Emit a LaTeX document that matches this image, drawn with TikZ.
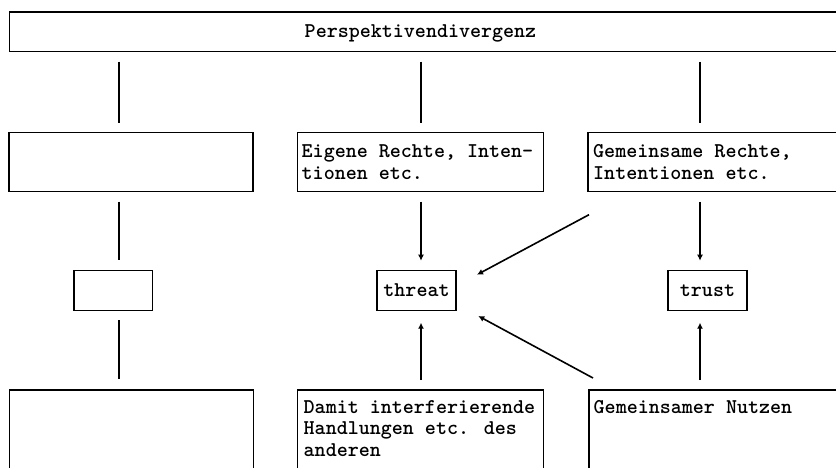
\documentclass[tikz,border=0pt]{standalone}
\usetikzlibrary{arrows.meta,calc}
\begin{document}
\begin{tikzpicture}[x=1pt,y=-1pt,
  box/.style={draw,line width=1.5pt,inner sep=0,outer sep=0,anchor=north west},
  txt/.style={inner sep=0,anchor=base west,font=\ttfamily\bfseries\fontsize{21}{21.8}\selectfont},
  conn/.style={line width=1.6pt},
  arr/.style={line width=1.6pt,-{Latex[length=6pt,width=6pt]}}]
\useasboundingbox (0,0) rectangle (836,467);
\clip (0,0) rectangle (836,467);
% boxes
\node[box,minimum width=845pt,minimum height=39.7pt] (top) at (9.5,12) {};
\node[box,minimum width=244pt,minimum height=59pt] (L2) at (9,132.7) {};
\node[box,minimum width=246pt,minimum height=59pt] (M2) at (297.3,132.7) {};
\node[box,minimum width=260pt,minimum height=59pt] (R2) at (588,132.7) {};
\node[box,minimum width=78.7pt,minimum height=40pt] (Ls) at (74,270.7) {};
\node[box,minimum width=79pt,minimum height=40pt] (threat) at (377,270.7) {};
\node[box,minimum width=79pt,minimum height=40pt] (trust) at (668,270.7) {};
\node[box,minimum width=244pt,minimum height=100pt] (L3) at (9.5,390) {};
\node[box,minimum width=246pt,minimum height=100pt] (M3) at (297.5,390) {};
\node[box,minimum width=260pt,minimum height=100pt] (R3) at (589,390) {};
% texts
\node[txt,anchor=base] (tTop) at (420.5,37.5) {Perspektivendivergenz};
\node[txt] (tM2) at (301.5,157.5) {\begin{tabular}[t]{@{}l@{}}Eigene Rechte, Inten-\\tionen etc.\end{tabular}};
\node[txt] (tR2) at (593,157.5) {\begin{tabular}[t]{@{}l@{}}Gemeinsame Rechte,\\Intentionen etc.\end{tabular}};
\node[txt,anchor=base] (tThreat) at ($(threat.center)+(0,6)$) {threat};
\node[txt,anchor=base] (tTrust) at ($(trust.center)+(0,6)$) {trust};
\node[txt] (tM3) at (303.5,413) {\begin{tabular}[t]{@{}l@{}}Damit interferierende\\Handlungen etc. des\\anderen\end{tabular}};
\node[txt] (tR3) at (593.5,413) {Gemeinsamer Nutzen};
% column positions
\coordinate (xL) at (119,0);
\coordinate (xM) at (421,0);
\coordinate (xR) at (700,0);
% connectors
\draw[conn,shorten <=10pt,shorten >=10pt] (top.south -| xL) -- (L2.north -| xL);
\draw[conn,shorten <=10pt,shorten >=10pt] (top.south -| xM) -- (M2.north -| xM);
\draw[conn,shorten <=10pt,shorten >=10pt] (top.south -| xR) -- (R2.north -| xR);
\draw[conn,shorten <=10pt,shorten >=10.5pt] (L2.south -| xL) -- (Ls.north -| xL);
\draw[conn,shorten <=9.5pt,shorten >=11pt] (Ls.south -| xL) -- (L3.north -| xL);
\draw[arr,shorten <=10pt,shorten >=10pt] (M2.south -| xM) -- (threat.north -| xM);
\draw[arr,shorten <=10pt,shorten >=12pt] (M3.north -| xM) -- (threat.south -| xM);
\draw[arr,shorten <=10pt,shorten >=10pt] (R2.south -| xR) -- (trust.north -| xR);
\draw[arr,shorten <=10pt,shorten >=12pt] (R3.north -| xR) -- (trust.south -| xR);
\coordinate (d1s) at ($(R2.south west)+(1,23)$);
\coordinate (d1e) at ($(threat.east)+(21,-16)$);
\coordinate (d2s) at ($(R3.north west)+(4,-12)$);
\coordinate (d2e) at ($(threat.east)+(22.3,25.3)$);
\draw[arr] (d1s) -- (d1e);
\draw[arr] (d2s) -- (d2e);
\end{tikzpicture}
\end{document}
